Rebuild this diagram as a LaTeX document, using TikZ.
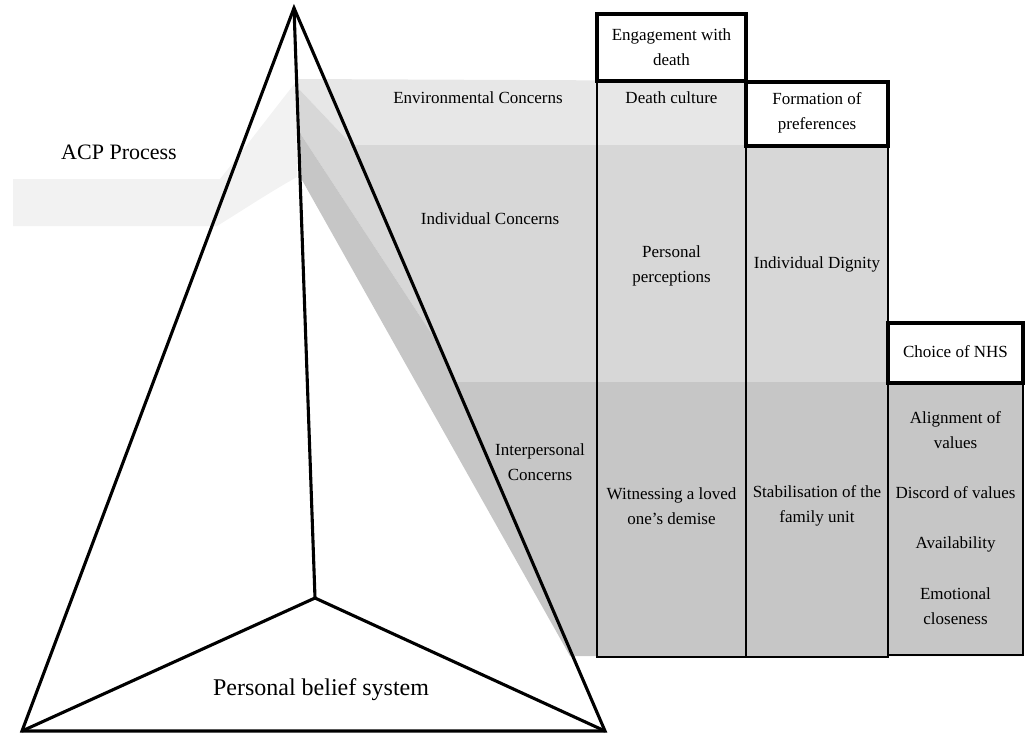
\documentclass[tikz,border=0pt]{standalone}
\usepackage{fontspec}
\setmainfont{Liberation Serif}
\definecolor{acpc}{gray}{0.95}
\definecolor{envc}{gray}{0.905}
\definecolor{indc}{gray}{0.845}
\definecolor{intc}{gray}{0.775}
\begin{document}
\begin{tikzpicture}[x=1pt,y=-1pt,
  lbl/.style={font=\fontsize{17}{25}\selectfont, align=center, inner sep=0pt},
  pline/.style={line width=3.1pt, line join=miter, line cap=round},
  hdr/.style={line width=3.3pt},
  bodyb/.style={line width=2.2pt}]
\useasboundingbox (0,0) rectangle (1027,732);
% pyramid coordinates
\coordinate (apex) at (294,8);
\coordinate (bl) at (22,731);
\coordinate (br) at (605,731);
\coordinate (inner) at (315,598);
% bands
\fill[acpc] (13,179) -- (220,179) .. controls (245,148) and (272,112) .. (296,82)
  -- (297,177) .. controls (270,192) and (243,210) .. (217,226) -- (13,226) -- cycle;
\fill[envc] (297,79) -- (746,81) -- (746,145) -- (352,145) -- (298,88) -- cycle;
\fill[indc] (298,88) -- (352,145) -- (888,145) -- (888,382) -- (455,382) -- (437,342) -- (300,133) -- cycle;
\fill[intc] (300,133) -- (437,342) -- (455,382) -- (1023,382) -- (1023,656) -- (570,656)
  -- (302,180) -- cycle;
% columns: bodies
\draw[bodyb] (597,81) rectangle (746,657);
\draw[bodyb] (746,146) rectangle (888,657);
\draw[bodyb] (888,383) rectangle (1023,655);
% headers
\draw[hdr] (597,14) rectangle (746,81);
\draw[hdr] (746,82) rectangle (888,146);
\draw[hdr] (888,323) rectangle (1023,383);
% pyramid
\draw[pline] (bl) -- (apex) -- (br) -- cycle;
\draw[pline] (apex) -- (inner);
\draw[pline] (bl) -- (inner) -- (br);
% labels
\node[lbl, font=\fontsize{22}{26}\selectfont] (acp) at (119,152) {ACP Process};
\node[lbl] (env) at (478,98) {Environmental Concerns};
\node[lbl] (ind) at (490,219) {Individual Concerns};
\node[lbl] (inter) at (540,462) {Interpersonal\\Concerns};
\node[lbl, font=\fontsize{24}{28}\selectfont] (pbs) at (321,690) {Personal belief system};
\node[lbl] (h1) at (671.5,47) {Engagement with\\death};
\node[lbl] (h2) at (817,113) {Formation of\\preferences};
\node[lbl] (h3) at (955.5,352) {Choice of NHS};
\node[lbl] (dc) at (671.5,98) {Death culture};
\node[lbl] (pp) at (671.5,266) {Personal\\perceptions};
\node[lbl] (wl) at (671.5,506) {Witnessing a loved\\one’s demise};
\node[lbl] (id) at (817,264) {Individual Dignity};
\node[lbl] (sf) at (817,506) {Stabilisation of the\\family unit};
\node[lbl] (av) at (955.5,430) {Alignment of\\values};
\node[lbl] (dv) at (955.5,493) {Discord of values};
\node[lbl] (avl) at (955.5,544) {Availability};
\node[lbl] (ec) at (955.5,606) {Emotional\\closeness};
\end{tikzpicture}
\end{document}
